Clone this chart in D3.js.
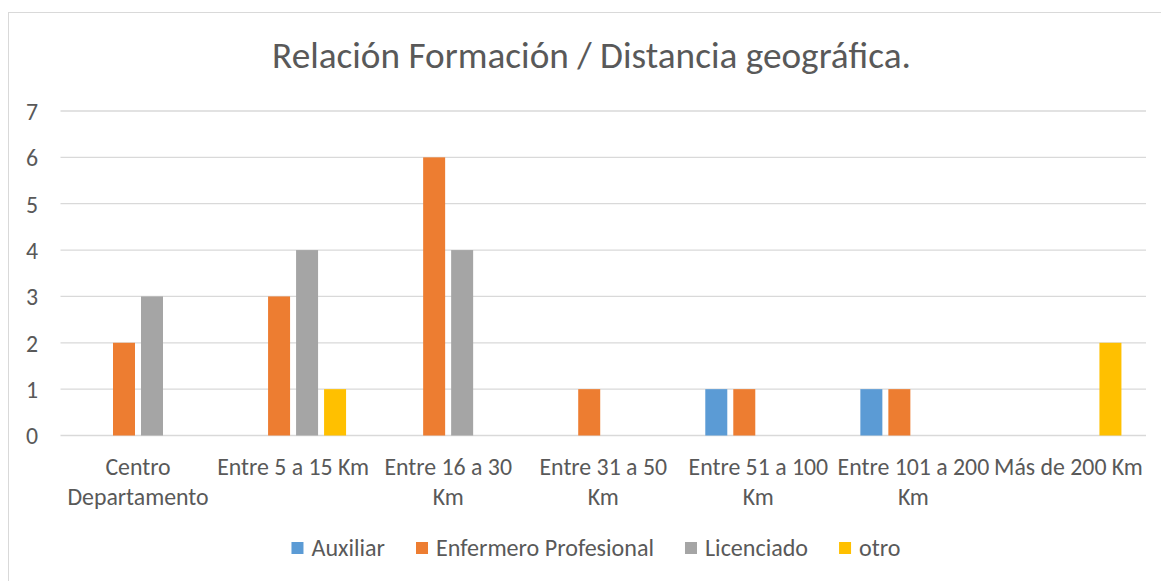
<!DOCTYPE html>
<html><head><meta charset="utf-8">
<script src="https://cdn.jsdelivr.net/npm/d3@7"></script>
<style>body{margin:0;background:#fff}svg{display:block}</style>
</head><body>
<svg id="c" width="1161" height="581"></svg>
<script>
const categories = ["Centro Departamento","Entre 5 a 15 Km","Entre 16 a 30 Km","Entre 31 a 50 Km","Entre 51 a 100 Km","Entre 101 a 200 Km","Más de 200 Km"];
const seriesNames = ["Auxiliar","Enfermero Profesional","Licenciado","otro"];
const auxiliar   = [0,0,0,0,1,1,0];
const enfermero  = [2,3,6,1,1,1,0];
const licenciado = [3,4,4,0,0,0,0];
const otro       = [0,1,0,0,0,0,2];
const yTicks = [0,1,2,3,4,5,6,7];
const colors = ["#5B9BD5","#ED7D31","#A5A5A5","#FFC000"];
const titleText = "Relación Formación / Distancia geográfica.";

const seriesValues = [auxiliar, enfermero, licenciado, otro];
const FONT = "Carlito, Calibri, Lato, 'Open Sans', sans-serif";
const TXT = "#595959";
const svg = d3.select("#c");

// outer chart border
svg.append("rect").attr("x",8.5).attr("y",12.5).attr("width",1170).attr("height",600)
  .attr("fill","#fff").attr("stroke","#d9d9d9").attr("stroke-width",1);

function fitSize(text, targetW, base){
  const t = svg.append("text").attr("font-family",FONT).attr("font-size",base).text(text);
  const w = t.node().getComputedTextLength(); t.remove();
  return base*targetW/w;
}

const pLeft = 60.5, pRight = 1146, pTop = 111, pBottom = 435.5;
const x = d3.scaleBand().domain(categories).range([pLeft,pRight]).paddingInner(0).paddingOuter(0);
const xs = d3.scaleBand().domain(seriesNames).range([24.5, 130.5]).paddingInner(6/28).paddingOuter(0);
const y = d3.scaleLinear().domain([0,7]).range([pBottom, pTop]);

// title
const titleSize = fitSize(titleText, 639, 28);
svg.append("text").attr("x",591.5).attr("y",68).attr("text-anchor","middle")
  .attr("font-family",FONT).attr("font-size",titleSize).attr("fill",TXT).text(titleText);

// gridlines
svg.append("g").selectAll("line").data(yTicks).join("line")
  .attr("x1",pLeft).attr("x2",pRight).attr("y1",d=>y(d)).attr("y2",d=>y(d))
  .attr("stroke","#d9d9d9").attr("stroke-width",1.3);

// y axis labels
const tickSize = fitSize("Entre 5 a 15 Km", 152, 18);
const yAxis = d3.axisLeft(y).tickValues(yTicks).tickFormat(d3.format("d")).tickSize(0).tickPadding(0);
const yg = svg.append("g").attr("transform",`translate(38,0)`).call(yAxis);
yg.select(".domain").remove();
yg.selectAll("text").attr("font-family",FONT).attr("font-size",tickSize).attr("fill",TXT).attr("dy","0.35em");

// bars
const data = [];
categories.forEach((c,i)=>seriesNames.forEach((s,j)=>{ if(seriesValues[j][i]>0) data.push({c,s,v:seriesValues[j][i],j}); }));
svg.append("g").selectAll("rect").data(data).join("rect")
  .attr("x",d=>x(d.c)+xs(d.s)).attr("width",xs.bandwidth())
  .attr("y",d=>y(d.v)).attr("height",d=>y(0)-y(d.v))
  .attr("fill",d=>colors[d.j]);

// x axis labels with wrapping
const xg = svg.append("g");
categories.forEach(c=>{
  const t = xg.append("text").attr("x",x(c)+x.bandwidth()/2).attr("y",475)
    .attr("text-anchor","middle").attr("font-family",FONT).attr("font-size",tickSize).attr("fill",TXT);
  const words = c.split(" ");
  let line = [], lines = [];
  const probe = svg.append("text").attr("font-family",FONT).attr("font-size",tickSize);
  words.forEach(w=>{
    const test = line.concat([w]).join(" ");
    probe.text(test);
    if(probe.node().getComputedTextLength() > x.bandwidth() && line.length){ lines.push(line.join(" ")); line=[w]; }
    else line.push(w);
  });
  lines.push(line.join(" ")); probe.remove();
  lines.forEach((l,k)=>t.append("tspan").attr("x",x(c)+x.bandwidth()/2).attr("y",475+k*29.5).text(l));
});

// legend
const legSize = fitSize("Enfermero Profesional", 218, 18);
const lprobe = svg.append("text").attr("font-family",FONT).attr("font-size",legSize);
const widths = seriesNames.map(s=>{lprobe.text(s); return lprobe.node().getComputedTextLength();});
lprobe.remove();
const sq = 12, sqGap = 8, itemGap = 31;
const total = d3.sum(widths) + seriesNames.length*(sq+sqGap) + itemGap*(seriesNames.length-1);
let lx = 596 - total/2;
const lg = svg.append("g");
seriesNames.forEach((s,i)=>{
  lg.append("rect").attr("x",lx).attr("y",542).attr("width",sq).attr("height",sq).attr("fill",colors[i]);
  lg.append("text").attr("x",lx+sq+sqGap).attr("y",548).attr("dy","0.35em")
    .attr("font-family",FONT).attr("font-size",legSize).attr("fill",TXT).text(s);
  lx += sq+sqGap+widths[i]+itemGap;
});
</script>
</body></html>
